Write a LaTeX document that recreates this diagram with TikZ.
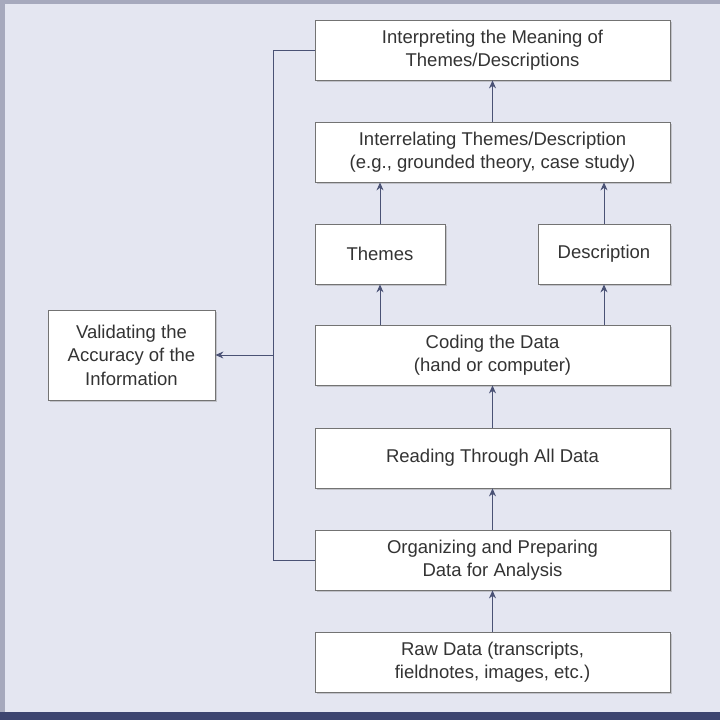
\documentclass[tikz,border=0pt]{standalone}
\usepackage{fontspec}
\setmainfont{Liberation Sans}
\usetikzlibrary{arrows.meta,shadows}
\definecolor{bg}{HTML}{E4E6F1}
\definecolor{edge}{HTML}{A6A9BD}
\definecolor{navy}{HTML}{3D4570}
\definecolor{ln}{HTML}{4A5275}
\begin{document}
\begin{tikzpicture}[x=1pt,y=-1pt,
  box/.style={draw=black!55,fill=white,line width=0.8pt,align=center,inner sep=0pt,
    font=\fontsize{18.5}{23.5}\selectfont,text=black!80,
    drop shadow={shadow xshift=1.5pt,shadow yshift=-1.5pt,opacity=0.35}},
  ar/.style={draw=ln,line width=1pt,-{Stealth[length=8pt,width=7pt]}},
  ln/.style={draw=ln,line width=1pt}]
\useasboundingbox (0,0) rectangle (720,720);
\fill[edge] (0,0) rectangle (720,720);
\fill[bg] (5,4) rectangle (720,712);
\fill[navy] (0,712) rectangle (720,720);
\node[box,minimum width=355pt,minimum height=60pt] (interp) at (492.5,50) {Interpreting the Meaning of\\Themes/Descriptions};
\node[box,minimum width=355pt,minimum height=60pt] (inter) at (492.5,152) {Interrelating Themes/Description\\(e.g., grounded theory, case study)};
\node[box,minimum width=130pt,minimum height=60pt] (themes) at (380,254) {Themes};
\node[box,minimum width=132pt,minimum height=60pt] (desc) at (604,254) {Description};
\node[box,minimum width=355pt,minimum height=60pt] (coding) at (492.5,355) {Coding the Data\\(hand or computer)};
\node[box,minimum width=355pt,minimum height=60pt] (reading) at (492.5,458) {Reading Through All Data};
\node[box,minimum width=355pt,minimum height=60pt] (org) at (492.5,560) {Organizing and Preparing\\Data for Analysis};
\node[box,minimum width=355pt,minimum height=60pt] (raw) at (492.5,662) {Raw Data (transcripts,\\fieldnotes, images, etc.)};
\node[box,minimum width=167pt,minimum height=90pt] (valid) at (131.5,355) {Validating the\\Accuracy of the\\Information};
\draw[ar] (raw) -- (org);
\draw[ar] (org) -- (reading);
\draw[ar] (reading) -- (coding);
\draw[ar] (coding.north -| themes) -- (themes);
\draw[ar] (coding.north -| desc) -- (desc);
\draw[ar] (themes) -- (inter.south -| themes);
\draw[ar] (desc) -- (inter.south -| desc);
\draw[ar] (inter) -- (interp);
\coordinate (tl) at (273,50);
\coordinate (bl) at (273,560);
\coordinate (ml) at (273,355);
\draw[ln] (interp.west) -- (tl) -- (bl) -- (org.west);
\draw[ar] (ml) -- (valid.east);
\end{tikzpicture}
\end{document}
